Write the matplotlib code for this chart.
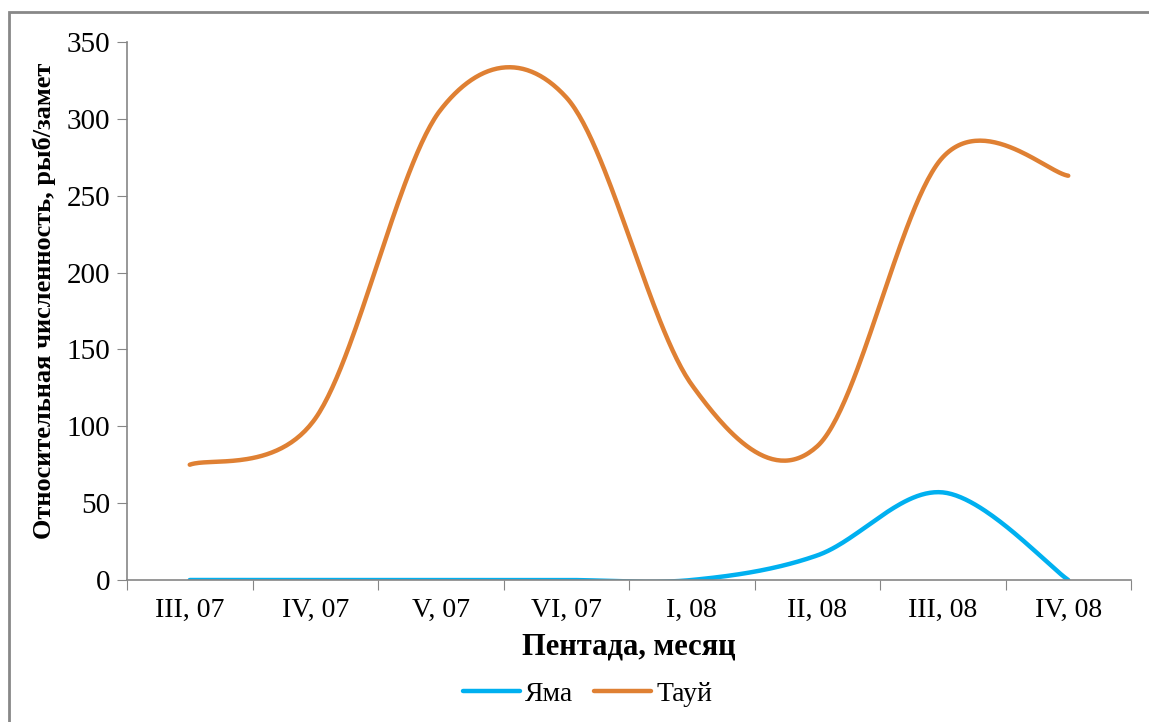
"""
Relative abundance by pentad, Yama vs Tauy (Excel-style smoothed lines)
"""

import numpy as np
import matplotlib.pyplot as plt
from matplotlib.patches import Rectangle

categories = ['III, 07', 'IV, 07', 'V, 07', 'VI, 07', 'I, 08', 'II, 08', 'III, 08', 'IV, 08']
yama = [0, 0, 0, 0, 0, 16, 57, 0]
tauy = [75, 105, 306, 314, 127, 87, 275, 263]

c_yama = '#00B0F0'
c_tauy = '#DF8033'
gray = '#868686'

plt.rcParams['font.family'] = ['Liberation Serif', 'DejaVu Serif']


def smooth(ax, xs, ys, n=60):
    # Excel-like smoothing: Catmull-Rom Bezier arms (1/6 of the neighbour
    # chord), capped at half the segment length; done in screen pixels
    pts = ax.transData.transform(np.column_stack([xs, ys]))
    m = len(pts)
    t = np.linspace(0, 1, n)[:, None]
    segs = []
    for i in range(m - 1):
        p0 = pts[i - 1] if i > 0 else pts[i]
        p1 = pts[i]
        p2 = pts[i + 1]
        p3 = pts[i + 2] if i + 2 < m else pts[i + 1]
        d12 = np.hypot(*(p2 - p1))
        d02 = np.hypot(*(p2 - p0))
        d13 = np.hypot(*(p3 - p1))
        f1 = 1/6 if d02/6 < d12/2 else d12/2/d02
        f2 = 1/6 if d13/6 < d12/2 else d12/2/d13
        b1 = p1 + (p2 - p0) * f1
        b2 = p2 - (p3 - p1) * f2
        seg = ((1 - t)**3 * p1 + 3 * (1 - t)**2 * t * b1
               + 3 * (1 - t) * t**2 * b2 + t**3 * p2)
        segs.append(seg if i == 0 else seg[1:])
    seg = ax.transData.inverted().transform(np.vstack(segs))
    return seg[:, 0], seg[:, 1]


x = np.arange(len(categories)) + 0.5

fig = plt.figure(figsize=(11.49, 7.22), dpi=100)
ax = fig.add_axes([127/1149, 1 - 580/722, (1131 - 127)/1149, (580 - 42)/722])

# grey frame round the chart area
fig.patches.append(Rectangle((9/1149, -0.1), 1.2, 1 - 12/722 + 0.1,
                             transform=fig.transFigure, fill=False,
                             edgecolor='#888888', lw=2))

ax.set_xlim(0, len(categories))
ax.set_ylim(0, 350)

sx, sy = smooth(ax, x, yama)
ax.plot(sx, sy, color=c_yama, lw=3.2, solid_capstyle='round', label='Яма')
sx, sy = smooth(ax, x, tauy)
ax.plot(sx, sy, color=c_tauy, lw=3.2, solid_capstyle='round', label='Тауй')

ax.set_xlim(0, len(categories))
ax.set_ylim(0, 350)
ax.set_yticks(np.arange(0, 351, 50))
ax.set_xticks(np.arange(0, len(categories) + 1))
ax.set_xticklabels([])
ax.set_xticks(x, minor=True)
ax.set_xticklabels(categories, minor=True)
ax.tick_params(axis='x', which='major', length=7, color=gray, direction='out')
ax.tick_params(axis='x', which='minor', length=0, pad=13, labelsize=20)
ax.tick_params(axis='y', length=7, color=gray, labelsize=21, pad=5)

for s in ['top', 'right']:
    ax.spines[s].set_visible(False)
for s in ['left', 'bottom']:
    ax.spines[s].set_color(gray)
    ax.spines[s].set_linewidth(1.2)

ax.set_xlabel('Пентада, месяц', fontsize=22, fontweight='bold', labelpad=7)
ax.set_ylabel('Относительная численность, рыб/замет', fontsize=19,
              fontweight='bold')
ax.yaxis.set_label_coords(-0.0705, 0.519)

fig.legend(loc='center', bbox_to_anchor=(0.5115, 1 - 694/722), ncol=2,
           frameon=False, fontsize=20, handlelength=2.05, columnspacing=0.75,
           handletextpad=0.2)

plt.savefig('out.png', dpi=100)
